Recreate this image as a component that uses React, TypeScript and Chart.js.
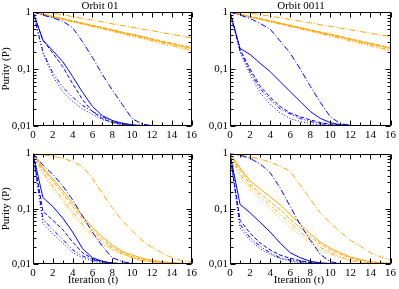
import React, { useEffect, useRef } from 'react';
import { Chart, registerables } from 'chart.js';

Chart.register(...registerables);

// ---------- data ----------
const ITER = [0, 1, 2, 3, 4, 5, 6, 7, 8, 9, 10, 11, 12, 13, 14, 15, 16];
const X_TICK_STEP = 2;
const Y_TICKS = [0.01, 0.1, 1];
const TITLES = ['Orbit 01', 'Orbit 0011'];
const Y_LABEL = 'Purity (P)';
const X_LABEL = 'Iteration (t)';

// top panels (shared orange bundle)
const topOrangeSolid = [1, 0.91, 0.83, 0.76, 0.69, 0.63, 0.575, 0.525, 0.48, 0.435, 0.4, 0.365, 0.33, 0.3, 0.275, 0.25, 0.23];
const topOrangeDash = [1, 0.915, 0.835, 0.765, 0.7, 0.64, 0.585, 0.535, 0.49, 0.445, 0.41, 0.375, 0.34, 0.31, 0.285, 0.26, 0.24];
const topOrangeDashDotDot = [1, 0.905, 0.82, 0.745, 0.675, 0.615, 0.56, 0.51, 0.465, 0.42, 0.385, 0.35, 0.315, 0.285, 0.26, 0.235, 0.215];
const topOrangeDot = [1, 0.9, 0.815, 0.74, 0.67, 0.61, 0.555, 0.5, 0.455, 0.41, 0.375, 0.34, 0.305, 0.278, 0.252, 0.228, 0.208];

// Orbit 01, top
const tlBlueSolid = [1, 0.32, 0.21, 0.135, 0.074, 0.039, 0.022, 0.0152, 0.0125, 0.0112, 0.0105, 0.0102, 0.0101, 0.01, 0.01, 0.01, 0.01];
const tlBlueDash = [1, 0.32, 0.19, 0.11, 0.055, 0.029, 0.018, 0.0135, 0.0115, 0.0106, 0.0102, 0.0101, 0.01, 0.01, 0.01, 0.01, 0.01];
const tlBlueDashDotDot = [1, 0.2, 0.085, 0.048, 0.032, 0.023, 0.018, 0.0145, 0.012, 0.011, 0.0104, 0.0102, 0.01, 0.01, 0.01, 0.01, 0.01];
const tlBlueDot = [1, 0.19, 0.075, 0.04, 0.027, 0.02, 0.016, 0.013, 0.0115, 0.0107, 0.0103, 0.0101, 0.01, 0.01, 0.01, 0.01, 0.01];
const tlBlueDashDot = [1, 0.88, 0.79, 0.69, 0.53, 0.3, 0.16, 0.08, 0.043, 0.024, 0.0135, 0.0108, 0.0102, 0.0101, 0.01, 0.01, 0.01];
const tlOrangeDashDot = [1, 0.99, 0.95, 0.89, 0.83, 0.77, 0.72, 0.67, 0.62, 0.58, 0.54, 0.5, 0.47, 0.435, 0.405, 0.38, 0.35];

// Orbit 0011, top
const trBlueSolid = [1, 0.23, 0.18, 0.126, 0.09, 0.06, 0.04, 0.027, 0.018, 0.0136, 0.0115, 0.0105, 0.0102, 0.0101, 0.01, 0.01, 0.01];
const trBlueDash = [1, 0.22, 0.1, 0.05, 0.032, 0.022, 0.017, 0.0145, 0.0128, 0.0115, 0.0108, 0.0104, 0.0102, 0.0101, 0.01, 0.01, 0.01];
const trBlueDashDotDot = [1, 0.21, 0.09, 0.045, 0.029, 0.02, 0.0162, 0.0135, 0.012, 0.011, 0.0105, 0.0102, 0.0101, 0.01, 0.01, 0.01, 0.01];
const trBlueDot = [1, 0.2, 0.08, 0.038, 0.024, 0.017, 0.0135, 0.012, 0.011, 0.0104, 0.0102, 0.0101, 0.01, 0.01, 0.01, 0.01, 0.01];
const trBlueDashDot = [1, 0.88, 0.77, 0.63, 0.5, 0.31, 0.19, 0.1, 0.05, 0.026, 0.0145, 0.011, 0.0103, 0.0101, 0.01, 0.01, 0.01];
const trOrangeDashDot = [1, 0.99, 0.955, 0.9, 0.845, 0.79, 0.74, 0.69, 0.645, 0.6, 0.56, 0.52, 0.49, 0.455, 0.425, 0.395, 0.37];

// Orbit 01, bottom
const blBlueSolid = [1, 0.16, 0.11, 0.068, 0.038, 0.019, 0.013, 0.0112, 0.0104, 0.0101, 0.01, 0.01, 0.01, 0.01, 0.01, 0.01, 0.01];
const blBlueDash = [1, 0.09, 0.062, 0.042, 0.025, 0.016, 0.0125, 0.011, 0.0104, 0.0101, 0.01, 0.01, 0.01, 0.01, 0.01, 0.01, 0.01];
const blBlueDashDotDot = [1, 0.065, 0.042, 0.028, 0.018, 0.014, 0.012, 0.0108, 0.0103, 0.0101, 0.01, 0.01, 0.01, 0.01, 0.01, 0.01, 0.01];
const blBlueDot = [1, 0.055, 0.035, 0.024, 0.016, 0.013, 0.0113, 0.0105, 0.0102, 0.01, 0.01, 0.01, 0.01, 0.01, 0.01, 0.01, 0.01];
const blBlueDashDot = [1, 0.62, 0.42, 0.26, 0.145, 0.074, 0.038, 0.021, 0.013, 0.011, 0.0103, 0.0101, 0.01, 0.01, 0.01, 0.01, 0.01];
const blOrangeSolid = [1, 0.55, 0.35, 0.215, 0.126, 0.074, 0.046, 0.031, 0.022, 0.017, 0.0145, 0.0128, 0.0117, 0.011, 0.0106, 0.0103, 0.0102];
const blOrangeDash = [1, 0.52, 0.32, 0.19, 0.11, 0.065, 0.041, 0.028, 0.02, 0.016, 0.0135, 0.012, 0.0112, 0.0107, 0.0104, 0.0102, 0.0101];
const blOrangeDashDotDot = [1, 0.46, 0.26, 0.15, 0.088, 0.053, 0.035, 0.025, 0.019, 0.0155, 0.013, 0.0117, 0.011, 0.0105, 0.0103, 0.0102, 0.0101];
const blOrangeDot = [1, 0.43, 0.235, 0.135, 0.078, 0.048, 0.032, 0.023, 0.018, 0.015, 0.0128, 0.0115, 0.0108, 0.0104, 0.0102, 0.0101, 0.01];
const blOrangeDashDot = [1, 0.95, 0.9, 0.82, 0.72, 0.58, 0.36, 0.19, 0.105, 0.062, 0.04, 0.027, 0.02, 0.016, 0.013, 0.0115, 0.0108];

// Orbit 0011, bottom
const brBlueSolid = [1, 0.12, 0.085, 0.057, 0.038, 0.024, 0.016, 0.013, 0.0112, 0.0105, 0.0102, 0.0101, 0.01, 0.01, 0.01, 0.01, 0.01];
const brBlueDash = [1, 0.062, 0.036, 0.024, 0.018, 0.0145, 0.0127, 0.0115, 0.0107, 0.0103, 0.0101, 0.01, 0.01, 0.01, 0.01, 0.01, 0.01];
const brBlueDashDotDot = [1, 0.052, 0.03, 0.021, 0.016, 0.013, 0.0118, 0.011, 0.0105, 0.0102, 0.0101, 0.01, 0.01, 0.01, 0.01, 0.01, 0.01];
const brBlueDot = [1, 0.045, 0.027, 0.019, 0.015, 0.0125, 0.0113, 0.0106, 0.0103, 0.0101, 0.01, 0.01, 0.01, 0.01, 0.01, 0.01, 0.01];
const brBlueDashDot = [1, 0.93, 0.82, 0.65, 0.45, 0.24, 0.11, 0.052, 0.027, 0.015, 0.011, 0.0102, 0.01, 0.01, 0.01, 0.01, 0.01];
const brOrangeSolid = [1, 0.55, 0.32, 0.23, 0.165, 0.118, 0.079, 0.053, 0.035, 0.025, 0.0195, 0.016, 0.0135, 0.012, 0.011, 0.0105, 0.0103];
const brOrangeDash = [1, 0.5, 0.28, 0.19, 0.135, 0.095, 0.065, 0.045, 0.031, 0.023, 0.018, 0.015, 0.013, 0.0118, 0.011, 0.0105, 0.0103];
const brOrangeDashDotDot = [1, 0.42, 0.25, 0.17, 0.115, 0.08, 0.055, 0.038, 0.027, 0.02, 0.016, 0.0135, 0.012, 0.011, 0.0105, 0.0103, 0.0102];
const brOrangeDot = [1, 0.38, 0.22, 0.15, 0.1, 0.068, 0.047, 0.033, 0.024, 0.018, 0.015, 0.013, 0.0115, 0.0108, 0.0104, 0.0102, 0.0101];
const brOrangeDashDot = [1, 0.94, 0.87, 0.8, 0.7, 0.59, 0.48, 0.27, 0.15, 0.085, 0.055, 0.038, 0.027, 0.021, 0.016, 0.0135, 0.012];

// ---------- styles ----------
const BLUE = '#0000ff';
const ORANGE = '#ffa500';
const SOLID: number[] = [];
const DASH = [4, 2];
const DASH_DOT_DOT = [4, 2, 1, 2, 1, 2];
const DOT = [1, 2];
const DASH_DOT = [6, 2, 1, 2];
const FONT_FAMILY = '"Liberation Serif", "Times New Roman", serif';

type Series = { data: number[]; color: string; dash: number[] };

function group(color: string, arrs: number[][]): Series[] {
  const dashes = [SOLID, DASH, DASH_DOT_DOT, DOT, DASH_DOT];
  return arrs.map((data, i) => ({ data, color, dash: dashes[i] }));
}

type PanelProps = {
  left: number; top: number; width: number; height: number;
  area: { l: number; t: number; r: number; b: number };
  title?: string; titleX?: number;
  yLabel?: boolean; xLabel?: boolean; xLabelX?: number;
  series: Series[];
};

function fmt(v: number): string {
  if (v === 1) return '1';
  if (Math.abs(v - 0.1) < 1e-9) return '0,1';
  if (Math.abs(v - 0.01) < 1e-9) return '0,01';
  return '';
}

function Panel(p: PanelProps) {
  const ref = useRef<HTMLCanvasElement>(null);
  useEffect(() => {
    if (!ref.current) return;
    const yw = p.area.l - p.left;
    const pr = p.left + p.width - p.area.r;
    const pt = p.area.t - p.top;
    const xh = p.top + p.height - p.area.b;
    const font = { family: FONT_FAMILY, size: 11 };

    const decorate = {
      id: 'decorate',
      afterDatasetsDraw(chart: any) {
        const { ctx, chartArea: ca, scales } = chart;
        const xs = scales.x, ys = scales.y;
        const L = Math.round(ca.left) + 0.5, R = Math.round(ca.right) - 0.5;
        const Tp = Math.round(ca.top) + 0.5, B = Math.round(ca.bottom) - 0.5;
        ctx.save();
        ctx.strokeStyle = '#000';
        ctx.lineWidth = 1;
        ctx.setLineDash([]);
        ctx.beginPath();
        ctx.rect(L, Tp, R - L, B - Tp);
        // x ticks (major every 2, minor every 1)
        for (let v = ITER[0]; v <= ITER[ITER.length - 1]; v++) {
          const px = Math.round(xs.getPixelForValue(v)) + 0.5;
          const len = v % X_TICK_STEP === 0 ? 5 : 3;
          ctx.moveTo(px, B); ctx.lineTo(px, B - len);
          ctx.moveTo(px, Tp); ctx.lineTo(px, Tp + len);
        }
        // y ticks (log)
        for (let d = 0; d < Y_TICKS.length; d++) {
          const base = Y_TICKS[d];
          const mults = d === Y_TICKS.length - 1 ? [1] : [1, 2, 3, 4, 5, 6, 7, 8, 9];
          for (const m of mults) {
            const py = Math.round(ys.getPixelForValue(base * m)) + 0.5;
            const len = m === 1 ? 5 : 3;
            ctx.moveTo(L, py); ctx.lineTo(L + len, py);
            ctx.moveTo(R, py); ctx.lineTo(R - len, py);
          }
        }
        ctx.stroke();
        ctx.fillStyle = '#000';
        ctx.font = `11px ${FONT_FAMILY}`;
        if (p.title) {
          ctx.textAlign = 'center';
          ctx.textBaseline = 'alphabetic';
          ctx.fillText(p.title, (p.titleX ?? 0) - p.left, p.area.t - p.top - 3);
        }
        if (p.yLabel) {
          ctx.save();
          ctx.translate(6, (ca.top + ca.bottom) / 2);
          ctx.rotate(-Math.PI / 2);
          ctx.textAlign = 'center';
          ctx.textBaseline = 'middle';
          ctx.fillText(Y_LABEL, 0, 0);
          ctx.restore();
        }
        if (p.xLabel) {
          ctx.textAlign = 'center';
          ctx.textBaseline = 'alphabetic';
          ctx.fillText(X_LABEL, (p.xLabelX ?? 0) - p.left, p.height - 6);
        }
        ctx.restore();
      },
    };

    const chart = new Chart(ref.current, {
      type: 'line',
      data: {
        labels: ITER,
        datasets: p.series.map((s) => ({
          data: s.data.map((y, i) => ({ x: ITER[i], y })),
          borderColor: s.color,
          backgroundColor: s.color,
          borderDash: s.dash,
          borderWidth: 1,
          pointRadius: 0,
          tension: 0,
          fill: false,
        })),
      },
      options: {
        animation: false,
        responsive: false,
        maintainAspectRatio: false,
        layout: { padding: { left: 0, right: pr, top: pt, bottom: 0 } },
        plugins: { legend: { display: false }, tooltip: { enabled: false }, title: { display: false } },
        scales: {
          x: {
            type: 'linear',
            min: ITER[0],
            max: ITER[ITER.length - 1],
            grid: { display: false, drawTicks: false },
            border: { display: false },
            ticks: { stepSize: X_TICK_STEP, font, color: '#000', padding: 3, maxRotation: 0, autoSkip: false },
            afterFit: (s: any) => { s.height = xh; },
          },
          y: {
            type: 'logarithmic',
            min: Y_TICKS[0],
            max: Y_TICKS[Y_TICKS.length - 1],
            grid: { display: false, drawTicks: false },
            border: { display: false },
            afterBuildTicks: (s: any) => { s.ticks = Y_TICKS.map((v) => ({ value: v })); },
            ticks: { font, color: '#000', padding: 2, callback: (v: any) => fmt(Number(v)) },
            afterFit: (s: any) => { s.width = yw; },
          },
        },
      } as any,
      plugins: [decorate],
    });
    return () => chart.destroy();
  }, []);
  return (
    <canvas
      ref={ref}
      width={p.width}
      height={p.height}
      style={{ position: 'absolute', left: p.left, top: p.top, width: p.width, height: p.height }}
    />
  );
}

export default function App() {
  const tl = [
    ...group(BLUE, [tlBlueSolid, tlBlueDash, tlBlueDashDotDot, tlBlueDot, tlBlueDashDot]),
    ...group(ORANGE, [topOrangeSolid, topOrangeDash, topOrangeDashDotDot, topOrangeDot, tlOrangeDashDot]),
  ];
  const tr = [
    ...group(BLUE, [trBlueSolid, trBlueDash, trBlueDashDotDot, trBlueDot, trBlueDashDot]),
    ...group(ORANGE, [topOrangeSolid, topOrangeDash, topOrangeDashDotDot, topOrangeDot, trOrangeDashDot]),
  ];
  const bl = [
    ...group(BLUE, [blBlueSolid, blBlueDash, blBlueDashDotDot, blBlueDot, blBlueDashDot]),
    ...group(ORANGE, [blOrangeSolid, blOrangeDash, blOrangeDashDotDot, blOrangeDot, blOrangeDashDot]),
  ];
  const br = [
    ...group(BLUE, [brBlueSolid, brBlueDash, brBlueDashDotDot, brBlueDot, brBlueDashDot]),
    ...group(ORANGE, [brOrangeSolid, brOrangeDash, brOrangeDashDotDot, brOrangeDot, brOrangeDashDot]),
  ];
  return (
    <div style={{ position: 'fixed', left: 0, top: 0, width: 399, height: 289, background: '#fff' }}>
      <Panel left={0} top={0} width={200} height={145} area={{ l: 33, t: 12, r: 197, b: 126 }}
        title={TITLES[0]} titleX={100} yLabel series={tl} />
      <Panel left={200} top={0} width={199} height={145} area={{ l: 230, t: 12, r: 393, b: 126 }}
        title={TITLES[1]} titleX={301} series={tr} />
      <Panel left={0} top={145} width={200} height={144} area={{ l: 33, t: 149, r: 197, b: 264 }}
        yLabel xLabel xLabelX={93} series={bl} />
      <Panel left={200} top={145} width={199} height={144} area={{ l: 230, t: 149, r: 393, b: 264 }}
        xLabel xLabelX={299} series={br} />
    </div>
  );
}
